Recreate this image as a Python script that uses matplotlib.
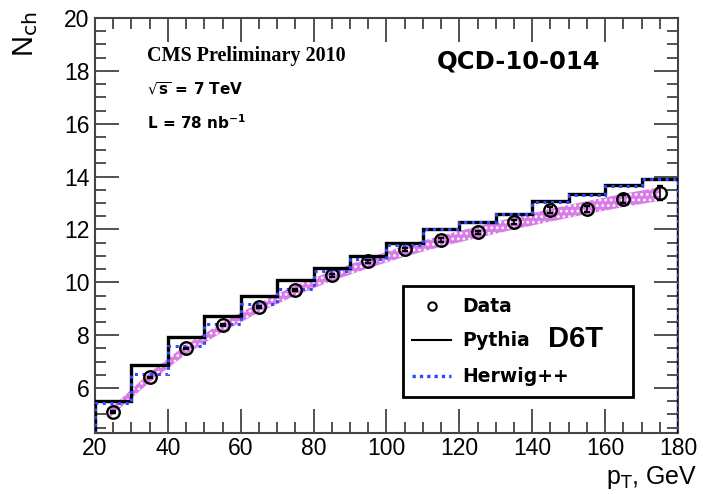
import numpy as np
import matplotlib
matplotlib.use('Agg')
import matplotlib.pyplot as plt
from matplotlib.patches import Rectangle
from matplotlib.lines import Line2D

# data
pt_centers = [25, 35, 45, 55, 65, 75, 85, 95, 105, 115, 125, 135, 145, 155, 165, 175]
nch_data = [5.1, 6.4, 7.5, 8.37, 9.07, 9.72, 10.27, 10.8, 11.25, 11.6, 11.9, 12.28, 12.74, 12.77, 13.15, 13.38]
nch_err = [0.03, 0.03, 0.03, 0.04, 0.04, 0.04, 0.05, 0.05, 0.05, 0.06, 0.06, 0.07, 0.1, 0.12, 0.15, 0.25]

bin_edges = [20, 30, 40, 50, 60, 70, 80, 90, 100, 110, 120, 130, 140, 150, 160, 170, 180]
pythia = [5.52, 6.87, 7.95, 8.74, 9.47, 10.08, 10.55, 10.98, 11.5, 12.03, 12.3, 12.6, 13.07, 13.33, 13.67, 13.9]
herwig = [5.45, 6.55, 7.58, 8.42, 9.18, 9.73, 10.43, 10.9, 11.4, 12.0, 12.28, 12.57, 13.05, 13.3, 13.65, 13.92]

band_x = [24, 35, 45, 55, 65, 75, 85, 95, 105, 115, 125, 135, 145, 155, 165, 175]
band_lo = [4.88, 6.22, 7.28, 8.12, 8.86, 9.5, 10.05, 10.53, 10.97, 11.35, 11.68, 12.0, 12.3, 12.58, 12.85, 13.08]
band_hi = [5.2, 6.58, 7.64, 8.48, 9.22, 9.88, 10.43, 10.93, 11.38, 11.77, 12.12, 12.46, 12.78, 13.07, 13.35, 13.6]

plt.rcParams['font.family'] = ['Liberation Sans', 'DejaVu Sans']
plt.rcParams['hatch.linewidth'] = 1.2

fig = plt.figure(figsize=(7.03, 4.94), dpi=100)
ax = fig.add_axes([95/703, 1-433/494, 583/703, 415/494])

# MC band
ax.fill_between(band_x, band_lo, band_hi, facecolor='#d97ce8', edgecolor='white',
                hatch='...', linewidth=0, zorder=1)

# generator histograms
ax.stairs(pythia, bin_edges, color='black', linewidth=2.4, zorder=3)
ax.stairs(herwig, bin_edges, color='#2b4cff', linewidth=2.2, linestyle=(0, (1, 1.5)), zorder=4)

# data
ax.errorbar(pt_centers, nch_data, yerr=nch_err, fmt='o', mfc='none', mec='black',
            mew=1.7, ms=9, ecolor='black', elinewidth=1.2, capsize=2, zorder=5)

ax.set_xlim(20, 180)
ax.set_ylim(4.3, 20)
ax.set_xticks(np.arange(20, 181, 20))
ax.set_xticks(np.arange(20, 181, 5), minor=True)
ax.set_yticks(np.arange(6, 21, 2))
ax.set_yticks(np.arange(4.5, 20.01, 0.5), minor=True)
ax.tick_params(which='both', direction='in', top=True, right=True, color='#333333',
               width=1.2, labelsize=16.5, pad=4)
ax.tick_params(axis='x', pad=3)
ax.tick_params(which='major', length=17)
ax.tick_params(which='minor', length=8)
for s in ax.spines.values():
    s.set_color('#444444')
    s.set_linewidth(1.5)

fig.text(26/703, 1-34/494, r'N$_{\mathrm{ch}}$', rotation=90, fontsize=21,
         ha='center', va='center')
fig.text(697/703, 1-484/494, r'p$_{\mathrm{T}}$, GeV', fontsize=18, ha='right', va='baseline')

# annotations
fig.text(147/703, 1-56/494, 'CMS Preliminary 2010', family='Liberation Serif',
         fontweight='bold', fontsize=14.5, va='center')
fig.text(147/703, 1-89/494, r'$\sqrt{\mathbf{s}}$ = 7 TeV', family='DejaVu Sans',
         fontweight='bold', fontsize=11, va='center')
fig.text(147/703, 1-123/494, r'L = 78 nb$^{\mathbf{-1}}$', family='DejaVu Sans',
         fontweight='bold', fontsize=11, va='center')
fig.text(437/703, 1-61/494, 'QCD-10-014', family='DejaVu Sans', fontweight='bold',
         fontsize=17.5, va='center')

# legend box drawn by hand in figure pixels
def fx(p):
    return p/703
def fy(p):
    return 1-p/494

fig.patches.append(Rectangle((fx(403), fy(397)), fx(633)-fx(403), fy(286)-fy(397),
                             transform=fig.transFigure, fill=False, edgecolor='black', linewidth=2))
fig.add_artist(Line2D([fx(432)], [fy(306)], marker='o', mfc='none', mec='black', mew=1.5, ms=6))
fig.add_artist(Line2D([fx(412), fx(451)], [fy(340), fy(340)], color='black', linewidth=1.5))
fig.add_artist(Line2D([fx(412), fx(451)], [fy(376), fy(376)], color='#2b4cff', linewidth=2.4,
                      linestyle=(0, (1, 1.2))))
fig.text(fx(462), fy(306), 'Data', family='DejaVu Sans', fontweight='bold', fontsize=13.5, va='center')
fig.text(fx(462), fy(340), 'Pythia', family='DejaVu Sans', fontweight='bold', fontsize=13.5, va='center')
fig.text(fx(548), fy(339), 'D6T', fontweight='bold', fontsize=21, va='center')
fig.text(fx(462), fy(376), 'Herwig++', family='DejaVu Sans', fontweight='bold', fontsize=13.5, va='center')

fig.savefig('out.png', dpi=100)
